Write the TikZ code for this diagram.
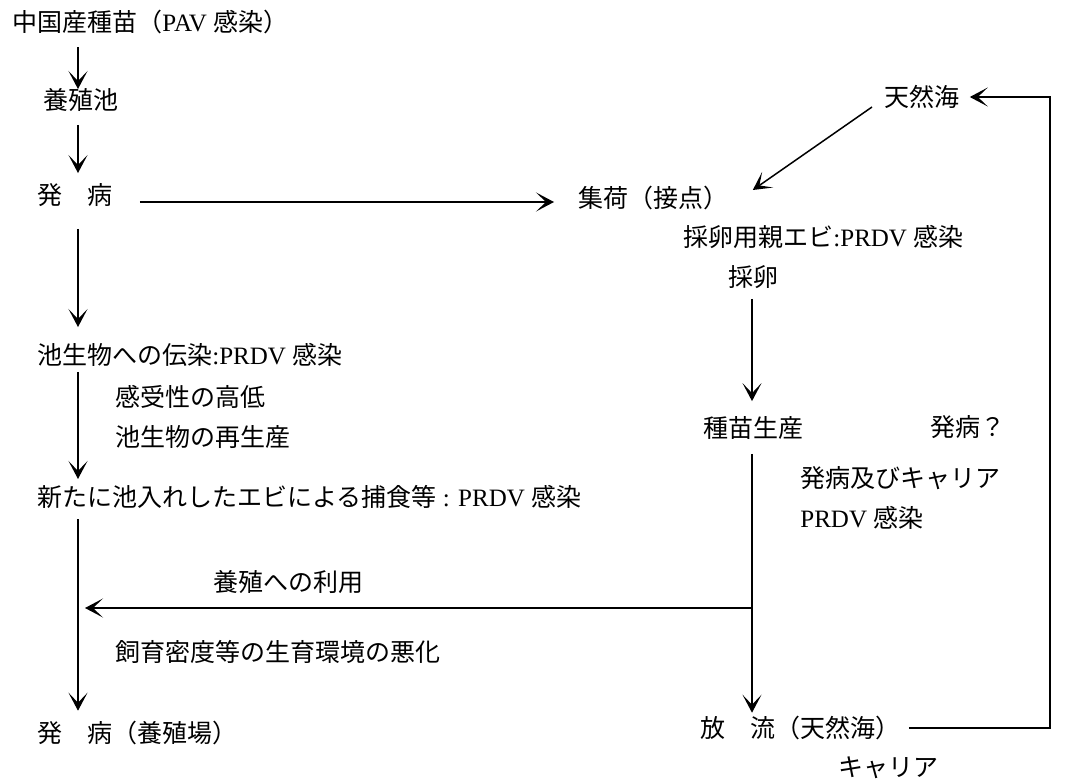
\documentclass[tikz,border=0pt]{standalone}
\usepackage{fontspec}
\setmainfont{Liberation Serif}
\newfontfamily\cjk{Noto Sans CJK JP}
\usetikzlibrary{arrows.meta,calc}
\newcommand\La[1]{{\rmfamily #1}}
\begin{document}
\begin{tikzpicture}[x=0.5pt,y=-0.5pt,
  lbl/.style={anchor=west,inner sep=0pt,font=\cjk\fontsize{12.5}{14}\selectfont},
  arr/.style={-{Stealth[length=9pt,width=9.5pt,inset=5pt]},line width=0.75pt},
  ln/.style={line width=0.75pt}]
\useasboundingbox (0,0) rectangle (1081,781);
\coordinate (cL) at (78,0);
\coordinate (cR) at (752,0);
\coordinate (cE) at (1050,0);
% left column
\node[lbl] (n1) at (12,22) {中国産種苗（\La{PAV }感染）};
\node[lbl] (n2) at (43,100) {養殖池};
\node[lbl] (n3) at (37,195) {発　病};
\node[lbl] (n8) at (37,355) {池生物への伝染\La{:PRDV }感染};
\node[lbl] (l1) at (115,397) {感受性の高低};
\node[lbl] (l2) at (115,437) {池生物の再生産};
\node[lbl] (n10) at (37,497) {新たに池入れしたエビによる捕食等\La{ : PRDV }感染};
\node[lbl] (l6) at (213,582) {養殖への利用};
\node[lbl] (l7) at (115,652) {飼育密度等の生育環境の悪化};
\node[lbl] (n11) at (37,733) {発　病（養殖場）};
% right column
\node[lbl] (n4) at (578,198) {集荷（接点）};
\node[lbl] (n5) at (884,97) {天然海};
\node[lbl] (n6) at (683,237) {採卵用親エビ\La{:PRDV }感染};
\node[lbl] (n7) at (728,277) {採卵};
\node[lbl] (n9) at (703,428) {種苗生産};
\node[lbl] (l3) at (930,427) {発病？};
\node[lbl] (l4) at (800,478) {発病及びキャリア};
\node[lbl] (l5) at (800,518) {\La{PRDV }感染};
\node[lbl] (n12) at (700,728) {放　流（天然海）};
\node[lbl] (l8) at (838,768) {キャリア};
% connectors
\draw[arr] ($(n1.south -| cL)+(0,13)$) -- ($(n2.north -| cL)+(0,1)$);
\draw[arr] ($(n2.south -| cL)+(0,13)$) -- ($(n3.north -| cL)+(0,-10)$);
\draw[arr] ($(n3.east)+(27,7)$) -- ($(n4.west |- n3.east)+(-24,7)$);
\draw[arr] ($(n3.south -| cL)+(0,22)$) -- ($(n8.north -| cL)+(0,-16)$);
\draw[arr] ($(n8.south -| cL)+(0,5)$) -- ($(n10.north -| cL)+(0,-6)$);
\draw[arr] ($(n10.south -| cL)+(0,10)$) -- ($(n11.north -| cL)+(0,-10)$);
\draw[arr] ($(n5.west)+(-12,10)$) -- ($(n4.east)+(24,-8)$);
\draw[arr] ($(n7.south -| cR)+(0,10)$) -- ($(n9.north -| cR)+(0,-15)$);
\draw[arr] ($(n9.south -| cR)+(0,14)$) -- ($(n12.north -| cR)+(0,-3)$);
\coordinate (br) at (752,608);
\draw[arr] (br) -- ($(br -| cL)+(7,0)$);
\draw[arr] ($(n12.east)+(8,0)$) -- (n12.east -| cE) -- (n5.east -| cE) -- ($(n5.east)+(10,0)$);
\end{tikzpicture}
\end{document}
